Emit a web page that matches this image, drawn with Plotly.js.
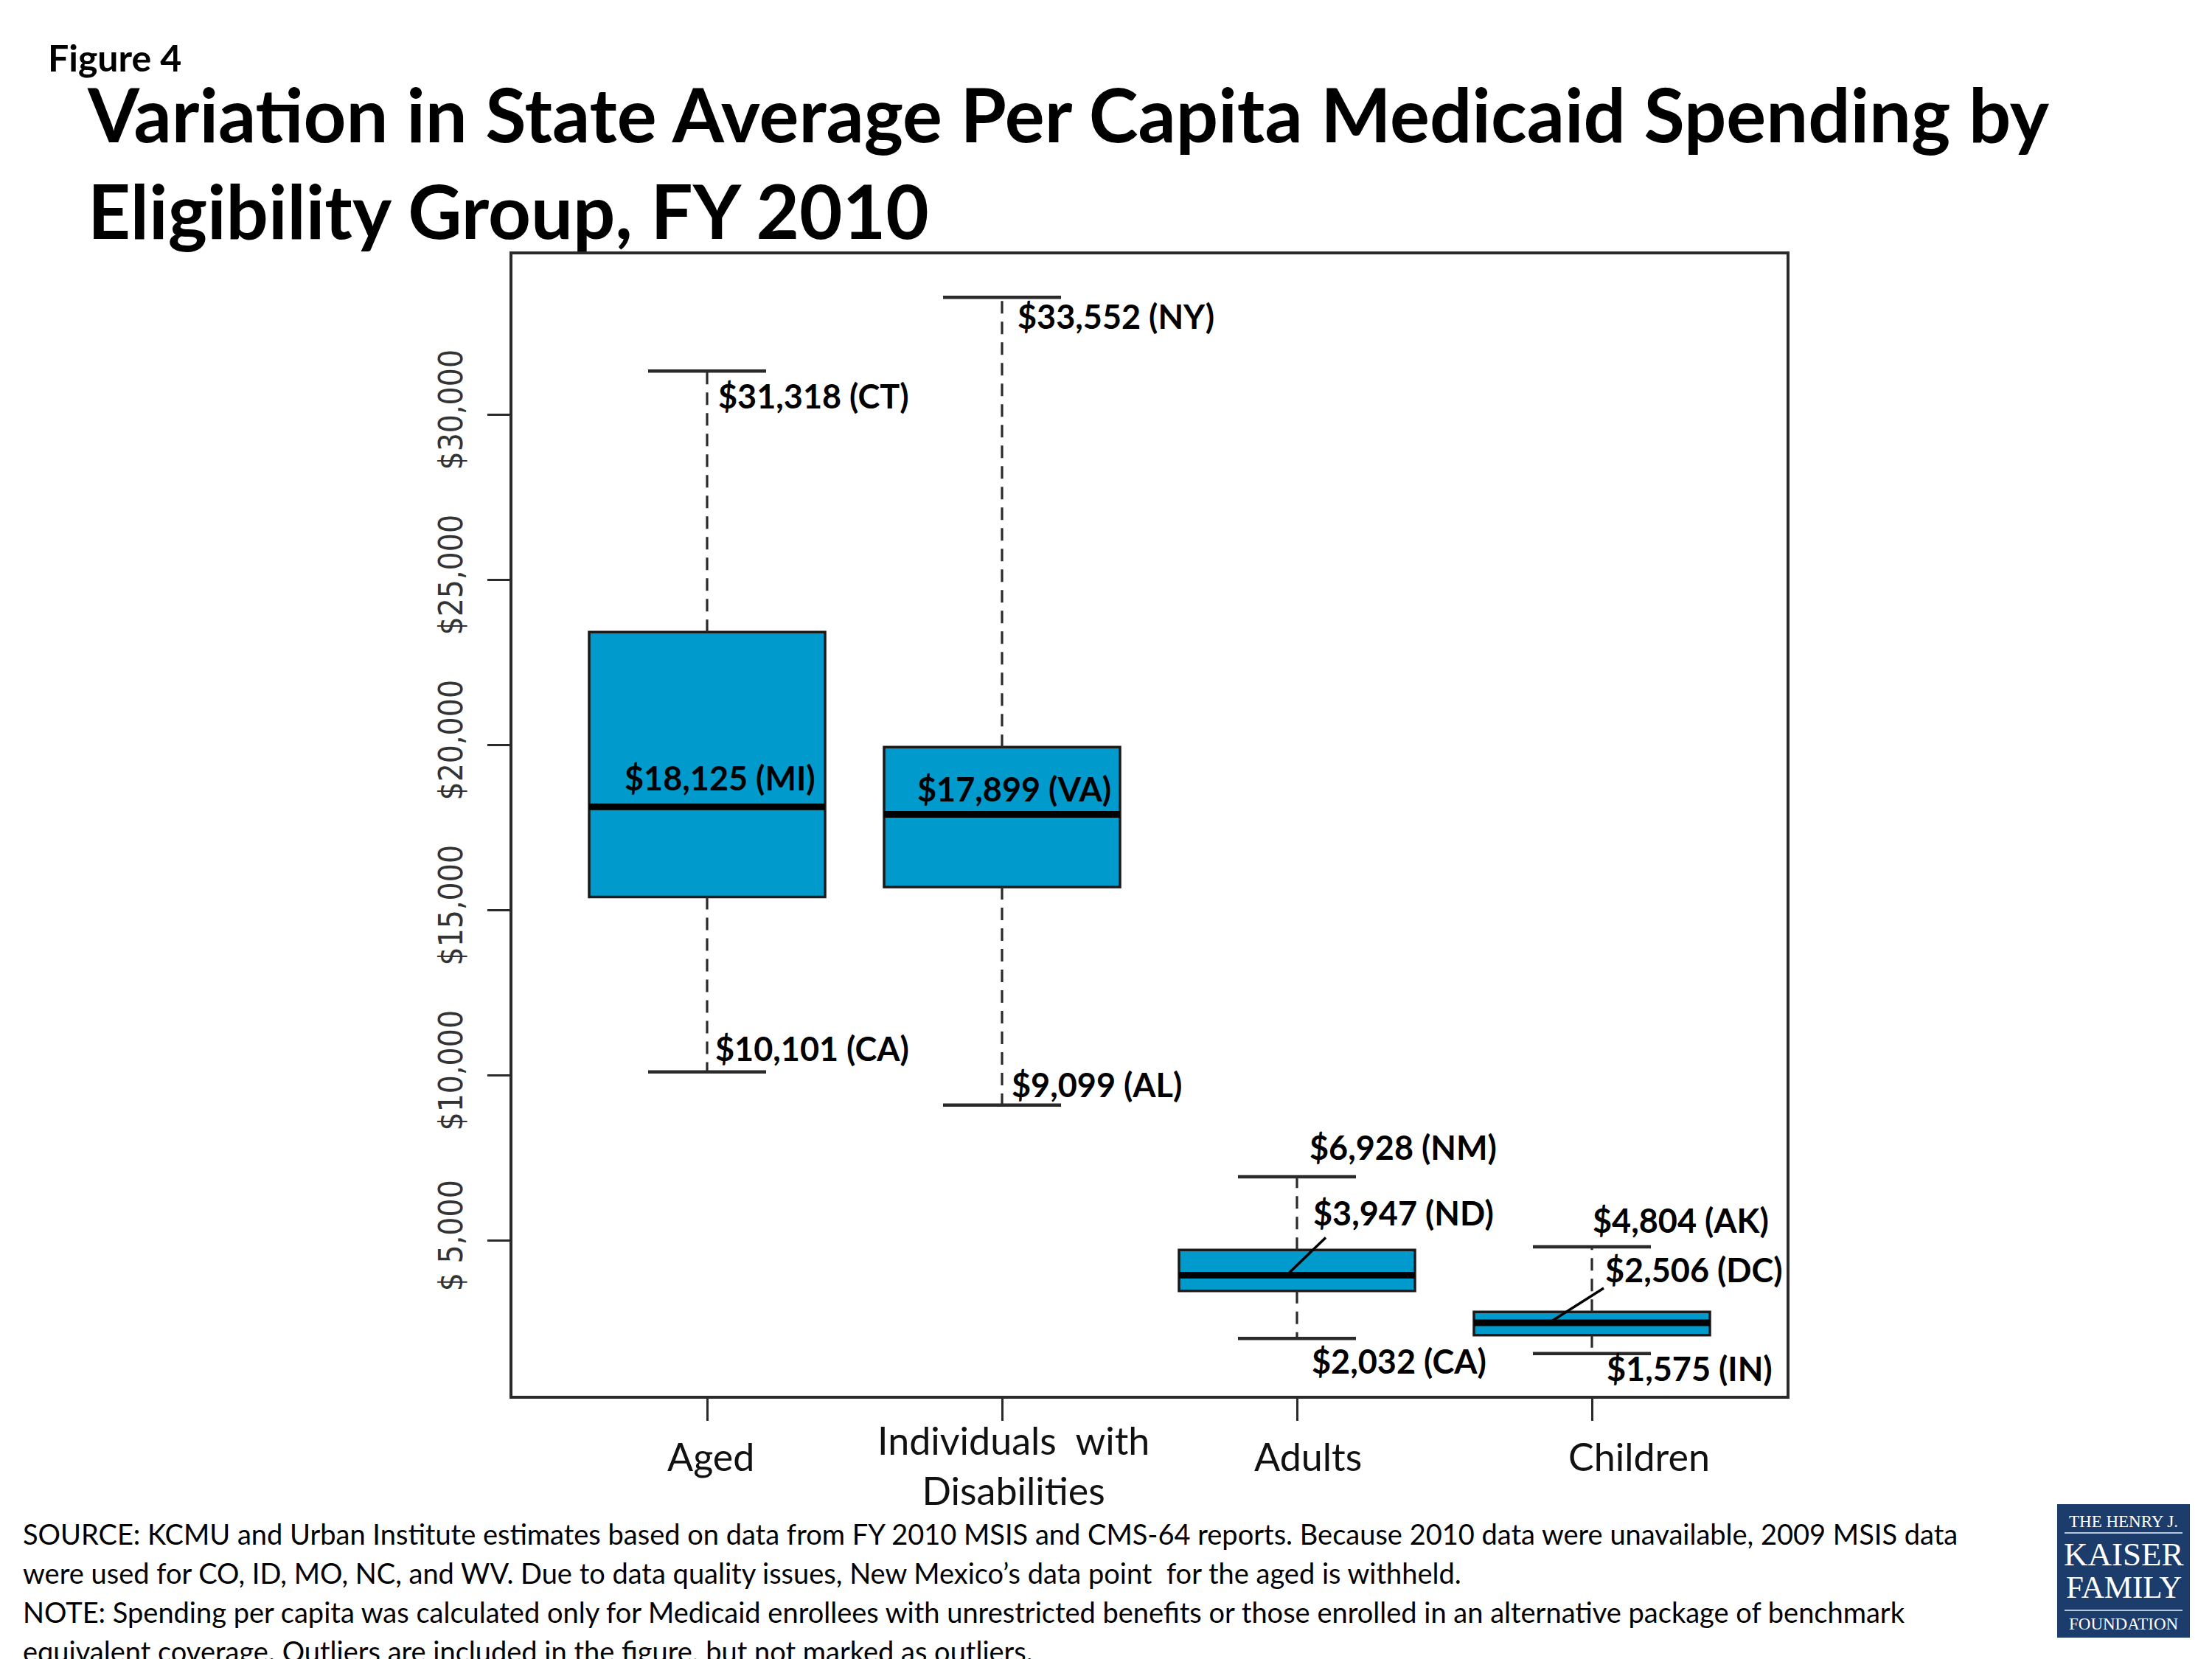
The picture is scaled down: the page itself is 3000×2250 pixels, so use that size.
<!DOCTYPE html>
<html><head><meta charset="utf-8">
<script src="https://cdn.plot.ly/plotly-3.0.1.min.js"></script>
<style>html,body{margin:0;padding:0;background:#fff;} #chart{width:3000px;height:2250px;}</style>
</head><body><div id="chart"></div>
<script>
// ---- data ----
const groups = ['Aged', 'Individuals  with<br>Disabilities', 'Adults', 'Children'];
const q1Vals = [15395, 15697, 3472, 2131];
const medianVals = [18125, 17899, 3947, 2506];
const q3Vals = [23416, 19931, 4712, 2833];
const minVals = [10101, 9099, 2032, 1575];
const maxVals = [31318, 33552, 6928, 4804];
const minStates = ['CA', 'AL', 'CA', 'IN'];
const medianStates = ['MI', 'VA', 'ND', 'DC'];
const maxStates = ['CT', 'NY', 'NM', 'AK'];
const yTickVals = [5000, 10000, 15000, 20000, 25000, 30000];
const yTickText = ['$ 5,000', '$10,000', '$15,000', '$20,000', '$25,000', '$30,000'];
const sourceLines = [
  'SOURCE: KCMU and Urban Institute estimates based on data from FY 2010 MSIS and CMS-64 reports. Because 2010 data were unavailable, 2009 MSIS data',
  'were used for CO, ID, MO, NC, and WV. Due to data quality issues, New Mexico\u2019s data point  for the aged is withheld.',
  'NOTE: Spending per capita was calculated only for Medicaid enrollees with unrestricted benefits or those enrolled in an alternative package of benchmark',
  'equivalent coverage. Outliers are included in the figure, but not marked as outliers.'
];

// ---- layout constants (positions / styles) ----
const L = 695, T = 345, W = 1728, H = 1548;
const pxX = p => (p - L) / W;
const pxY = p => (T + H - p) / H;
const boxWidth = 0.8, capHalf = 0.2;
const boxFill = '#009ACD', lineCol = '#2a2a2a';
const labelFont = {family: 'Lato, Open Sans, sans-serif', size: 45, color: '#000', weight: 700};
const maxLabelPos = [{xs: 13, ys: -34, xa: 'left'}, {xs: 19, ys: -26, xa: 'left'}, {xs: 15, ys: 40, xa: 'left'}, {xs: -1, ys: 36, xa: 'left'}];
const medLabelPos = [{xs: 17, ys: 39, xa: 'center'}, {xs: 16, ys: 34, xa: 'center'}, {xs: 20, ys: 84, xa: 'left'}, {xs: 16, ys: 72, xa: 'left'}];
const minLabelPos = [{xs: 9, ys: 32, xa: 'left'}, {xs: 11, ys: 28, xa: 'left'}, {xs: 18, ys: -31, xa: 'left'}, {xs: 18, ys: -20, xa: 'left'}];
const leaders = [null, null, {x0: -14, x1: 39, y1: 51}, {x0: -58, x1: 16, y1: 47}];
const catLabelShift = [5, 15, 15, 64];
const catLabelY = [1975, 1987, 1975, 1975];

const idx = groups.map((g, i) => i);
const money = v => '$' + v.toLocaleString('en-US');

// whiskers (dashed)
const wx = [], wy = [];
idx.forEach(i => { wx.push(i, i, null, i, i, null); wy.push(q3Vals[i], maxVals[i], null, q1Vals[i], minVals[i], null); });
// caps
const cx = [], cy = [];
idx.forEach(i => { cx.push(i - capHalf, i + capHalf, null, i - capHalf, i + capHalf, null); cy.push(maxVals[i], maxVals[i], null, minVals[i], minVals[i], null); });
// medians
const mx = [], my = [];
idx.forEach(i => { mx.push(i - boxWidth / 2, i + boxWidth / 2, null); my.push(medianVals[i], medianVals[i], null); });

const traces = [
  {type: 'scatter', mode: 'lines', x: wx, y: wy, line: {color: lineCol, width: 3.2, dash: '17px,11px'}, hoverinfo: 'skip', showlegend: false},
  {type: 'scatter', mode: 'lines', x: cx, y: cy, line: {color: lineCol, width: 4.5}, hoverinfo: 'skip', showlegend: false},
  {type: 'box', x: idx, q1: q1Vals, median: medianVals, q3: q3Vals, lowerfence: q1Vals, upperfence: q3Vals,
   width: boxWidth, whiskerwidth: 0, fillcolor: boxFill, line: {color: '#1a1a1a', width: 3.5}, boxpoints: false, hoverinfo: 'skip', showlegend: false},
  {type: 'scatter', mode: 'lines', x: mx, y: my, line: {color: '#000', width: 9}, hoverinfo: 'skip', showlegend: false}
];

const annotations = [];
idx.forEach(i => {
  const specs = [
    [maxVals[i], maxStates[i], maxLabelPos[i]],
    [medianVals[i], medianStates[i], medLabelPos[i]],
    [minVals[i], minStates[i], minLabelPos[i]]
  ];
  specs.forEach(([v, st, p]) => {
    annotations.push({xref: 'x', yref: 'y', x: i, y: v, text: money(v) + ' (' + st + ')', showarrow: false,
      xanchor: p.xa, yanchor: 'middle', xshift: p.xs, yshift: p.ys, font: labelFont});
  });
  annotations.push({xref: 'x', yref: 'paper', x: i, y: pxY(catLabelY[i]), text: groups[i], showarrow: false,
    xanchor: 'center', yanchor: 'middle', xshift: catLabelShift[i], align: 'center',
    font: {family: 'Lato, Open Sans, sans-serif', size: 52, color: '#111'}});
});
annotations.push({xref: 'paper', yref: 'paper', x: pxX(63), y: pxY(78), text: 'Figure 4', showarrow: false,
  xanchor: 'left', yanchor: 'middle', font: {family: 'Lato, sans-serif', size: 50, color: '#000', weight: 700}});
const srcY = [2080, 2133, 2186, 2239];
sourceLines.forEach((s, k) => {
  annotations.push({xref: 'paper', yref: 'paper', x: pxX(29), y: pxY(srcY[k]), text: s, showarrow: false,
    xanchor: 'left', yanchor: 'middle', font: {family: 'Lato, sans-serif', size: 38, color: '#000'}});
});
// logo texts
const logo = [['THE HENRY J.', 2063, 23], ['KAISER', 2108, 45], ['FAMILY', 2152, 43], ['FOUNDATION', 2202, 23]];
logo.forEach(([t, y, s]) => {
  annotations.push({xref: 'paper', yref: 'paper', x: pxX(2880), y: pxY(y), text: t, showarrow: false,
    xanchor: 'center', yanchor: 'middle', font: {family: 'Liberation Serif, serif', size: s, color: '#fff'}});
});

const shapes = [];
idx.forEach(i => {
  const ld = leaders[i];
  if (ld) {
    shapes.push({type: 'line', xref: 'x', yref: 'y', xsizemode: 'pixel', ysizemode: 'pixel',
      xanchor: i, yanchor: medianVals[i], x0: ld.x0, x1: ld.x1, y0: 0, y1: ld.y1,
      line: {color: '#000', width: 3.5}});
  }
});
shapes.push({type: 'rect', xref: 'paper', yref: 'paper', x0: pxX(2790), x1: pxX(2970), y0: pxY(2221), y1: pxY(2040),
  fillcolor: '#1c3c6c', line: {width: 0}, layer: 'below'});
[2079, 2184].forEach(y => shapes.push({type: 'line', xref: 'paper', yref: 'paper', x0: pxX(2800), x1: pxX(2960), y0: pxY(y), y1: pxY(y),
  line: {color: '#b8c6dc', width: 2}}));

const layout = {
  width: 3000, height: 2250,
  margin: {l: L, r: 3000 - L - W, t: T, b: 2250 - T - H, pad: 0},
  paper_bgcolor: '#fff', plot_bgcolor: '#fff',
  showlegend: false,
  title: {text: 'Variation in State Average Per Capita Medicaid Spending by<br>Eligibility Group, FY 2010',
    font: {family: 'Lato, Open Sans, sans-serif', size: 101, color: '#000', weight: 700},
    x: 119 / 3000, xanchor: 'left', xref: 'container', yref: 'container', y: 1 - 193 / 2250, yanchor: 'top'},
  xaxis: {range: [-0.66, 3.66], tickvals: idx, showticklabels: false, ticks: 'outside', ticklen: 30, tickwidth: 3,
    tickcolor: lineCol, showline: true, mirror: true, linecolor: lineCol, linewidth: 4, zeroline: false, showgrid: false},
  yaxis: {range: [296, 34850], tickvals: yTickVals, ticktext: yTickText, ticks: 'outside', ticklen: 30, tickwidth: 3,
    tickcolor: lineCol, tickangle: -90, ticklabelstandoff: 16,
    tickfont: {family: 'Liberation Sans Narrow, DejaVu Sans Condensed, sans-serif', size: 44, color: '#333'},
    showline: true, mirror: true, linecolor: lineCol, linewidth: 4, zeroline: false, showgrid: false},
  annotations: annotations,
  shapes: shapes
};

Plotly.newPlot('chart', traces, layout, {displayModeBar: false, staticPlot: true});
</script>
</body></html>
